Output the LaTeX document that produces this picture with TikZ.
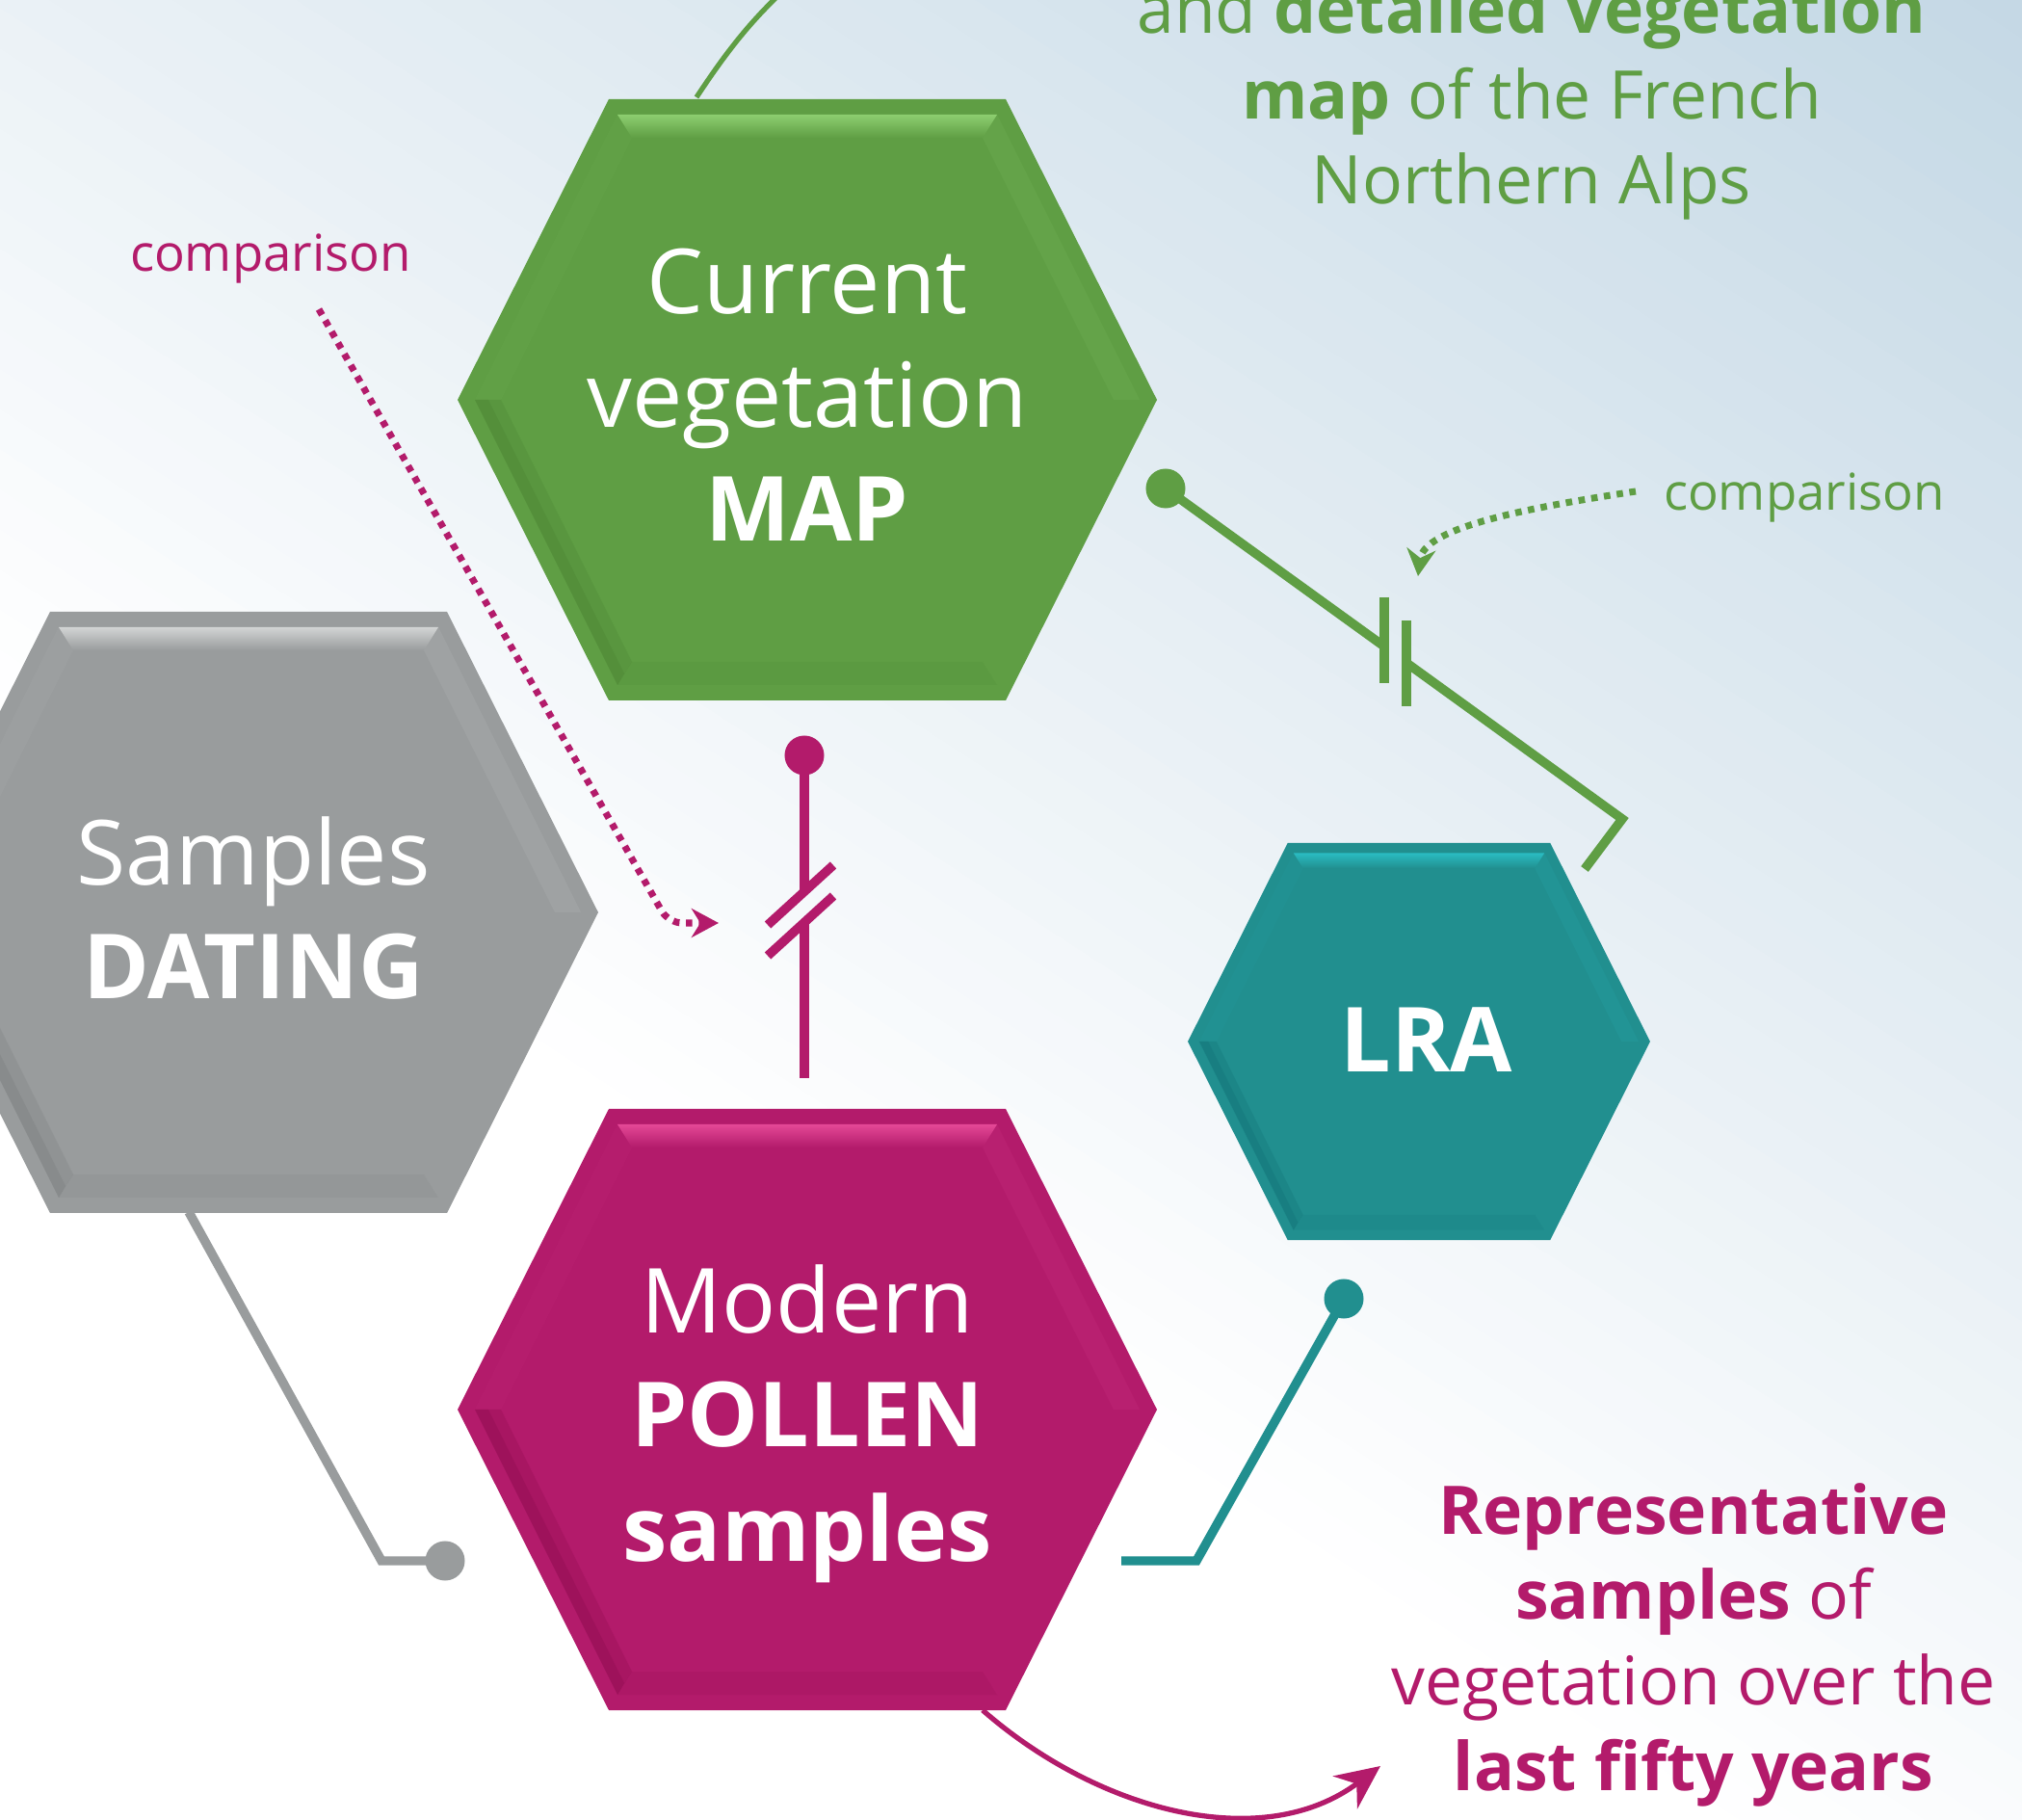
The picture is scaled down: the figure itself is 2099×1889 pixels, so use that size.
\documentclass[tikz,border=0pt]{standalone}
\usepackage{fontspec}
\setmainfont{Open Sans}
\usetikzlibrary{arrows.meta}

\definecolor{vegGreen}{RGB}{95,158,68}
\definecolor{vegGreenLight}{RGB}{141,206,112}
\definecolor{vegGreenDark}{RGB}{78,136,54}
\definecolor{polMagenta}{RGB}{179,27,107}
\definecolor{polMagentaLight}{RGB}{228,72,150}
\definecolor{polMagentaDark}{RGB}{148,14,84}
\definecolor{lraTeal}{RGB}{33,143,143}
\definecolor{lraTealLight}{RGB}{42,188,194}
\definecolor{lraTealDark}{RGB}{20,118,122}
\definecolor{datGrey}{RGB}{153,156,157}
\definecolor{datGreyLight}{RGB}{210,212,212}
\definecolor{datGreyDark}{RGB}{128,131,132}
\definecolor{bgBlue}{RGB}{196,216,229}

% bevelled hexagon round the origin, in pixel units
\newcommand{\hexfacets}[3]{%
	\fill[#1] (-363,0) -- (-206,-312) -- (206,-312) -- (363,0) -- (206,312) -- (-206,312) -- cycle;
	\shade[top color=#2, bottom color=#1] (-197,-296) -- (197,-296) -- (182,-272) -- (-182,-272) -- cycle;
	\fill[#2, opacity=0.06] (-345,0) -- (-197,-296) -- (-182,-272) -- (-318,0) -- cycle;
	\fill[#2, opacity=0.12] (345,0) -- (197,-296) -- (182,-272) -- (318,0) -- cycle;
	\fill[#3, opacity=0.35] (-345,0) -- (-197,296) -- (-182,272) -- (-318,0) -- cycle;
	\fill[#3, opacity=0.45] (-345,0) -- (-197,296) -- (-190,284) -- (-331,0) -- cycle;
	\fill[#3, opacity=0.18] (-197,296) -- (197,296) -- (182,272) -- (-182,272) -- cycle;
}

\begin{document}
\begin{tikzpicture}[x=0.01cm, y=-0.01cm,
	hexText/.style={text=white, align=center, inner sep=0pt, font=\fontsize{26.5}{33.6}\selectfont},
	noteText/.style={align=center, inner sep=0pt, font=\fontsize{19.8}{25.2}\selectfont},
	cmpText/.style={inner sep=0pt, font=\fontsize{15}{18}\selectfont},
	link/.style={line width=2.7pt},
	dot/.style={circle, inner sep=0pt, minimum size=0.41cm},
	cmpArrow/.style={line width=2pt, dash pattern=on 1.9pt off 1.9pt, -{Stealth[length=8pt, width=8.5pt]}},
	noteArrow/.style={line width=1.5pt, -{Stealth[length=13pt, width=12pt]}}]

	\useasboundingbox (0,0) rectangle (2099,1889);
	\clip (0,0) rectangle (2099,1889);

	\fill[white] (0,0) rectangle (2099,1889);
	\begin{scope}[rotate=57]
		\foreach \i in {0,...,49}{
			\pgfmathtruncatemacro{\pct}{2*\i+1}
			\fill[bgBlue!\pct!white] (-600+34.9*\i,-100) rectangle (-600+34.9*\i+37,2900);
		}
		\fill[bgBlue] (1144,-100) rectangle (1500,2900);
	\end{scope}

	\begin{scope}[shift={(838,415)}]
		\hexfacets{vegGreen}{vegGreenLight}{vegGreenDark}
	\end{scope}
	\begin{scope}[shift={(258,947)}]
		\hexfacets{datGrey}{datGreyLight}{datGreyDark}
	\end{scope}
	\begin{scope}[shift={(838,1463)}]
		\hexfacets{polMagenta}{polMagentaLight}{polMagentaDark}
	\end{scope}
	\begin{scope}[shift={(1473,1081)}, scale=0.661]
		\hexfacets{lraTeal}{lraTealLight}{lraTealDark}
	\end{scope}

	\node[hexText, anchor=base](mapText) at (838,562){Current\\vegetation\\\textbf{MAP}};
	\node[hexText, anchor=base](datingText) at (263,1037){Samples\\\textbf{DATING}};
	\node[hexText, anchor=base](pollenText) at (838,1620){Modern\\\textbf{POLLEN}\\\textbf{samples}};
	\node[hexText, anchor=base](lraText) at (1481,1113){\textbf{LRA}};

	\node[noteText, text=vegGreen, anchor=base](mapNote) at (1590,212){and \textbf{detailed vegetation}\\\textbf{map} of the French\\Northern Alps};
	\node[noteText, text=polMagenta, anchor=base](pollenNote) at (1758,1858){\textbf{Representative}\\\textbf{samples} of\\vegetation over the\\\textbf{last fifty years}};

	\node[cmpText, text=polMagenta, anchor=base](pollenCmp) at (281,282){comparison};
	\node[cmpText, text=vegGreen, anchor=base](mapCmp) at (1873,530){comparison};

	\node[dot, fill=vegGreen](mapDot) at (1210,507){};
	\node[dot, fill=polMagenta](pollenDot) at (835,784){};
	\node[dot, fill=datGrey](datingDot) at (462,1620){};
	\node[dot, fill=lraTeal](lraDot) at (1395,1348){};

	\coordinate (plateA) at (1437,671);
	\coordinate (plateB) at (1460,688);
	\coordinate (lraBend) at (1684,850);
	\coordinate (lraEnd) at (1645,902);
	\coordinate (breakA) at (835,925);
	\coordinate (breakB) at (835,957);
	\coordinate (pollenTop) at (835,1119);
	\coordinate (datingFoot) at (196,1258);
	\coordinate (datingBend) at (396,1620);
	\coordinate (pollenBend) at (1242,1620);
	\coordinate (pollenSide) at (1164,1620);

	\draw [link, vegGreen] (mapDot.center) -- (plateA);
	\draw [link, vegGreen] (plateA) ++(0,-51) -- ++(0,89);
	\draw [link, vegGreen] (plateB) ++(0,-44) -- ++(0,89);
	\draw [link, vegGreen] (plateB) -- (lraBend) -- (lraEnd);

	\draw [link, polMagenta] (pollenDot.center) -- (breakA);
	\draw [link, polMagenta] (breakA) ++(-38,35) -- ++(68,-62);
	\draw [link, polMagenta] (breakB) ++(-38,35) -- ++(68,-62);
	\draw [link, polMagenta] (breakB) -- (pollenTop);

	\draw [link, datGrey] (datingFoot) -- (datingBend) -- (datingDot.center);
	\draw [link, lraTeal] (lraDot.center) -- (pollenBend) -- (pollenSide);

	\coordinate (pollenCmpFrom) at (331,321);
	\coordinate (pollenCmpTurn) at (694,958);
	\coordinate (pollenCmpTip) at (746,958);
	\coordinate (mapCmpFrom) at (1698,510);
	\coordinate (mapCmpTip) at (1472,598);
	\draw [cmpArrow, polMagenta, rounded corners=4pt] (pollenCmpFrom) -- (pollenCmpTurn) -- (pollenCmpTip);
	\draw [cmpArrow, vegGreen] (mapCmpFrom) .. controls (1580,528) and (1478,548) .. (mapCmpTip);

	\coordinate (mapTop) at (723,101);
	\coordinate (mapNoteEnd) at (850,-40);
	\coordinate (pollenBottom) at (1020,1775);
	\coordinate (pollenNoteTip) at (1433,1833);
	\draw [line width=1.5pt, vegGreen] (mapTop) .. controls (756,51) and (790,5) .. (mapNoteEnd);
	\draw [noteArrow, polMagenta] (pollenBottom) .. controls (1140,1880) and (1310,1925) .. (pollenNoteTip);
\end{tikzpicture}
\end{document}
